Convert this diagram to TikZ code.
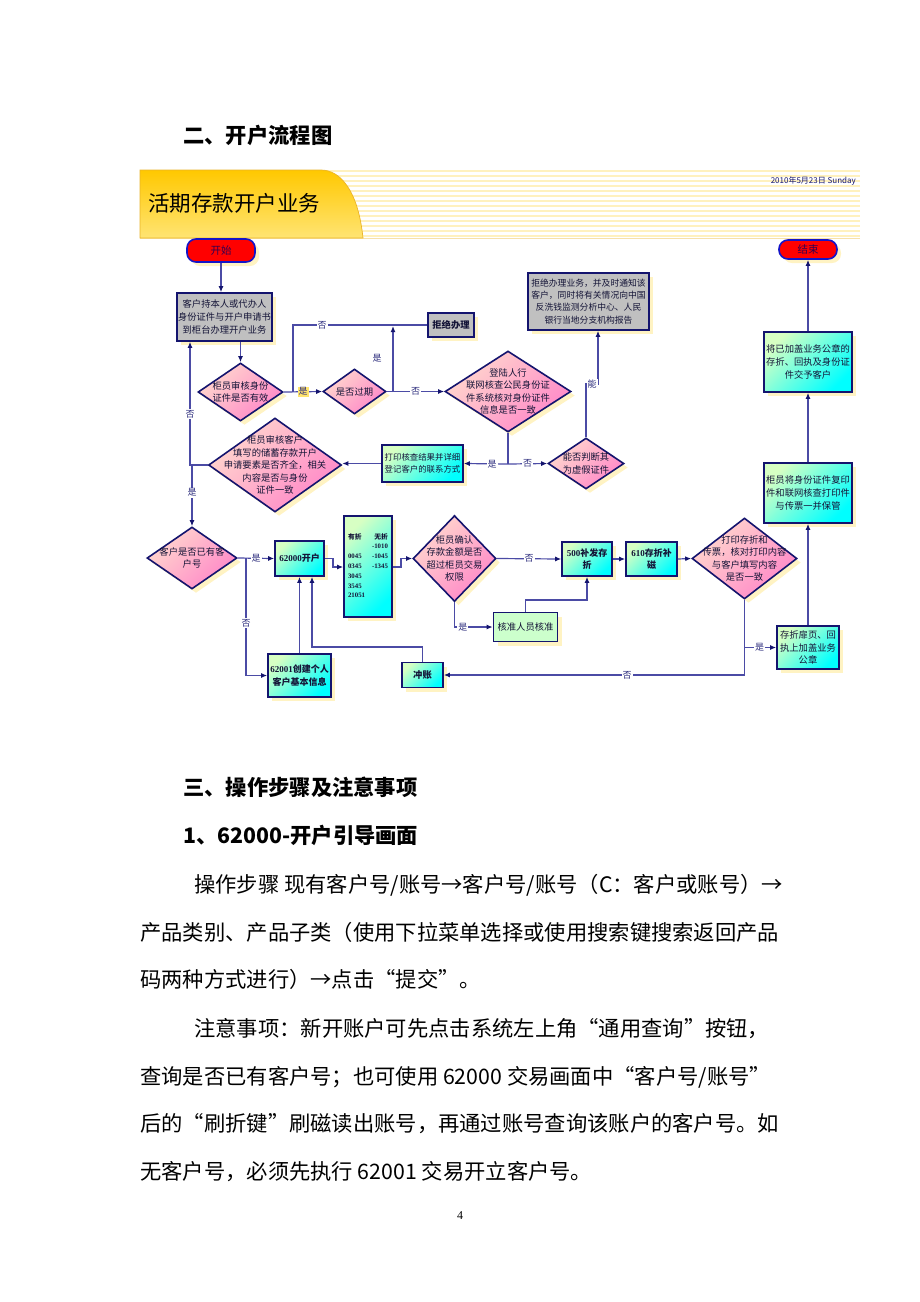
\documentclass[tikz,border=0pt]{standalone}
\usepackage{fontspec}
\setmainfont{Liberation Serif}
\newfontfamily\cjk{Noto Sans CJK SC}
\usetikzlibrary{shapes.geometric,arrows.meta,shadows}
\definecolor{navy}{RGB}{20,20,110}
\definecolor{linec}{RGB}{75,75,165}
\definecolor{txt}{RGB}{20,20,55}
\definecolor{lblc}{RGB}{45,45,125}
\definecolor{shad}{RGB}{255,243,195}
\definecolor{cyanA}{RGB}{215,255,195}
\definecolor{cyanB}{RGB}{0,255,255}
\definecolor{pinkA}{RGB}{255,215,205}
\definecolor{pinkB}{RGB}{255,135,200}
\definecolor{grayb}{RGB}{192,192,192}
\definecolor{greenb}{RGB}{204,255,204}
\definecolor{tabA}{RGB}{255,200,0}
\definecolor{tabB}{RGB}{255,228,115}
\definecolor{tabedge}{RGB}{235,180,40}
\definecolor{stripe}{RGB}{255,241,190}
\definecolor{hilite}{RGB}{255,228,110}
\definecolor{pillborder}{RGB}{20,20,200}
\definecolor{pilltext}{RGB}{50,0,80}
\tikzset{
  base/.style={draw=navy, line width=1.6pt, align=center, text=txt,
    font=\cjk\fontsize{9.3}{12.8}\selectfont, inner sep=1pt,
    drop shadow={shadow xshift=4pt, shadow yshift=-4pt, fill=shad, opacity=1}},
  sz/.style 2 args={minimum width=#1, minimum height=#2},
  graybox/.style={base, rectangle, fill=grayb},
  cyanbox/.style={base, rectangle, top color=cyanA, bottom color=cyanB, shading angle=45},
  greenbox/.style={base, rectangle, fill=greenb},
  dia/.style={base, diamond, top color=pinkA, bottom color=pinkB, shading angle=45, inner sep=0pt},
  diatext/.style={align=center, text=txt, font=\cjk\fontsize{9.3}{12.5}\selectfont, inner sep=0pt},
  pill/.style={base, rectangle, rounded corners=9pt, fill=red, draw=pillborder, text=pilltext,
    font=\cjk\fontsize{10.5}{12}\selectfont},
  conn/.style={draw=linec, line width=1.2pt, -{Latex[length=6pt,width=5pt,color=navy]}},
  plain/.style={draw=linec, line width=1.2pt},
  lbl/.style={fill=white, inner sep=1pt, text=lblc, font=\cjk\fontsize{9}{10}\selectfont},
  page/.style={anchor=base west, text=black, font=\cjk\fontsize{21.3}{22}\selectfont, inner sep=0pt},
  head/.style={anchor=base west, text=black, font=\cjk\bfseries\fontsize{21.3}{22}\selectfont, inner sep=0pt}
}
\begin{document}
\begin{tikzpicture}[x=1pt,y=-1pt]
\useasboundingbox (0,0) rectangle (920,1302);
\fill[white] (0,0) rectangle (920,1302);

% page headings
\node[head] (h1) at (183,143) {二、开户流程图};

% banner
\foreach \yy in {171,176,...,236} \draw[stripe, line width=2.4pt] (290,\yy) -- (860,\yy);
\draw[tabedge!40, line width=0.6pt] (140,238.5) -- (860,238.5);
\shade[top color=tabA, bottom color=tabB] (140,170) -- (321,170) .. controls (340,170) and (358,190) .. (363,238) -- (140,238) -- cycle;
\draw[tabedge, line width=0.7pt] (140,238) -- (140,170) -- (321,170) .. controls (340,170) and (358,190) .. (363,238) -- cycle;
\node[anchor=base west, inner sep=0pt, font=\cjk\fontsize{21.5}{22}\selectfont] (title) at (148,211) {活期存款开户业务};
\node[anchor=east, inner sep=0pt, text=navy, font=\cjk\fontsize{8}{9}\selectfont] (date) at (856,181) {2010年5月23日 Sunday};

% nodes
\node[pill, sz={68}{23}] (start) at (221,250.5) {开始};
\node[pill, sz={58}{19}] (end) at (808,249.5) {结束};
\node[graybox, sz={95}{48}] (A) at (224.5,317) {客户持本人或代办人\\身份证件与开户申请书\\到柜台办理开户业务};
\node[dia, sz={85}{58}, label={[diatext]center:{柜员审核身份\\证件是否有效}}] (D1) at (240.5,392) {};
\node[dia, sz={63}{45}, label={[diatext]center:{是否过期}}] (D2) at (354.5,391.5) {};
\node[graybox, sz={46}{24}, font=\cjk\bfseries\fontsize{9.3}{12}\selectfont] (rej1) at (451,325) {拒绝办理};
\node[dia, sz={126}{81}, label={[diatext]center:{登陆人行\\联网核查公民身份证\\件系统核对身份证件\\信息是否一致}}] (D3) at (508,391.5) {};
\node[graybox, sz={121}{57}, font=\cjk\fontsize{8.8}{12.2}\selectfont] (rej2) at (588.5,301.5) {拒绝办理业务，并及时通知该\\客户，同时将有关情况向中国\\反洗钱监测分析中心、人民\\银行当地分支机构报告};
\node[dia, sz={76}{51}, label={[diatext]center:{能否判断其\\为虚假证件}}] (D4) at (586,463.5) {};
\node[cyanbox, sz={81}{37}, font=\cjk\fontsize{8.4}{12}\selectfont] (P) at (422.5,463.5) {打印核查结果并详细\\登记客户的联系方式};
\node[dia, sz={133}{94}, label={[diatext]center:{柜员审核客户\\填写的储蓄存款开户\\申请要素是否齐全，相关\\内容是否与身份\\证件一致}}] (D5) at (275,465) {};
\node[dia, sz={90}{62}, label={[diatext]center:{客户是否已有客\\户号}}] (D6) at (192,558) {};
\node[cyanbox, sz={49}{35}, font=\cjk\bfseries\fontsize{9}{12}\selectfont] (K) at (299.5,558.5) {{\rmfamily 62000}开户};
\node[cyanbox, sz={48}{101}, inner sep=0pt] (T) at (368,566.5) {\rmfamily\bfseries\fontsize{6.8}{9.8}\selectfont
  \begin{tabular}{@{}l@{\hspace{7pt}}r@{}}
  {\cjk 有折} & {\cjk 无折}\\
   & -1010\\
  0045 & -1045\\
  0345 & -1345\\
  3045 & \\
  3545 & \\
  21051 & \\
  \end{tabular}};
\node[dia, sz={83}{86}, label={[diatext]center:{柜员确认\\存款金额是否\\超过柜员交易\\权限}}] (D7) at (454.5,558.5) {};
\node[cyanbox, sz={50}{34}, font=\cjk\bfseries\fontsize{9}{12.5}\selectfont] (B500) at (587,559) {{\rmfamily 500}补发存\\折};
\node[cyanbox, sz={51}{34}, font=\cjk\bfseries\fontsize{9}{12.5}\selectfont] (B610) at (651.5,559) {{\rmfamily 610}存折补\\磁};
\node[dia, sz={105}{81}, label={[diatext]center:{打印存折和\\传票，核对打印内容\\与客户填写内容\\是否一致}}] (D8) at (744.5,558.5) {};
\node[greenbox, sz={64}{29}] (N) at (525.5,627) {核准人员核准};
\node[cyanbox, sz={62}{43}] (S) at (808,647.5) {存折扉页、回\\执上加盖业务\\公章};
\node[cyanbox, sz={88}{60}] (U) at (808,493) {柜员将身份证件复印\\件和联网核查打印件\\与传票一并保管};
\node[cyanbox, sz={88}{60}] (V) at (808,362) {将已加盖业务公章的\\存折、回执及身份证\\件交予客户};
\node[cyanbox, sz={63}{43}, font=\cjk\bfseries\fontsize{9}{12.5}\selectfont] (C) at (299.5,675.5) {{\rmfamily 62001}创建个人\\客户基本信息};
\node[cyanbox, sz={41}{25}, font=\cjk\bfseries\fontsize{9.3}{12}\selectfont] (CZ) at (422.5,675) {冲账};

% connectors
\draw[conn] (start.south) -- (start.south |- A.north);
\draw[conn] (D1.north |- A.south) -- (D1.north);
\draw[conn] (D1.east) -- node[lbl, fill=hilite]{是} (D2.west);
\draw[plain] (293,392) |- (rej1.west);
\node[lbl] (l1) at (322,325) {否};
\draw[conn] (393,392) -- (393,326);
\node[lbl, fill=none] (l2) at (377,358) {是};
\draw[conn] (D2.east) -- node[lbl]{否} (D3.west);
\draw[plain] (D3.south) -- (508,464);
\draw[conn] (508,464) -- node[lbl, pos=0.36]{是} (P.east);
\draw[conn] (508,464) -- node[lbl]{否} (D4.west);
\draw[conn] (D4.north) -- (586,384) -- (598,384) -- (598,0 |- rej2.south);
\node[lbl] (l3) at (592,384) {能};
\draw[conn] (P.west) -- (P.west -| D5.east);
\draw[conn] (D5.west) -- (190,465) -- (190,0 |- A.south);
\node[lbl] (l4) at (190,414) {否};
\draw[conn] (192,465) -- node[lbl, pos=0.45]{是} (D6.north);
\draw[conn] (D6.east) -- node[lbl]{是} (K.west);
\draw[conn] (246,558) -- (246,675.5) -- (C.west);
\node[lbl] (l5) at (246,623) {否};
\draw[conn] (C.north) -- (C.north |- K.south);
\draw[conn] (CZ.north) -- (422.5,647) -- (312,647) -- (312,0 |- K.south);
\draw[conn] (K.east) -- (333,558.5) -- (333,567) -- (T.west |- 0,567);
\draw[conn] (T.east |- 0,567) -- (401,567) -- (401,558.5) -- (D7.west);
\draw[conn] (D7.east) -- node[lbl]{否} (B500.west);
\draw[conn] (B500.east) -- (B610.west);
\draw[conn] (B610.east) -- (D8.west);
\draw[conn] (D7.south) -- (454.5,627) -- node[lbl, pos=0.22]{是} (N.west);
\draw[conn] (N.north) |- (B500.south |- 0,600) -- (B500.south);
\draw[conn] (D8.south) -- (744.5,675) -- node[lbl, pos=0.39]{否} (CZ.east);
\draw[conn] (744.5,647.5) -- node[lbl, pos=0.48]{是} (S.west);
\draw[conn] (S.north) -- (U.south);
\draw[conn] (U.north) -- (V.south);
\draw[conn] (V.north) -- (end.south);

% page text
\node[head] (h2) at (183,795) {三、操作步骤及注意事项};
\node[head] (h3) at (183,843) {1、62000-开户引导画面};
\node[page] (p1) at (194,892) {操作步骤 现有客户号/账号→客户号/账号（C：客户或账号）→};
\node[page] (p2) at (140,940) {产品类别、产品子类（使用下拉菜单选择或使用搜索键搜索返回产品};
\node[page] (p3) at (140,987) {码两种方式进行）→点击“提交”。};
\node[page] (p4) at (194,1036) {注意事项：新开账户可先点击系统左上角“通用查询”按钮，};
\node[page] (p5) at (140,1084) {查询是否已有客户号；也可使用 62000 交易画面中“客户号/账号”};
\node[page] (p6) at (140,1131) {后的“刷折键”刷磁读出账号，再通过账号查询该账户的客户号。如};
\node[page] (p7) at (140,1179) {无客户号，必须先执行 62001 交易开立客户号。};
\node[font=\rmfamily\fontsize{12}{12}\selectfont, inner sep=0pt] (pn) at (460,1216) {4};
\end{tikzpicture}
\end{document}
